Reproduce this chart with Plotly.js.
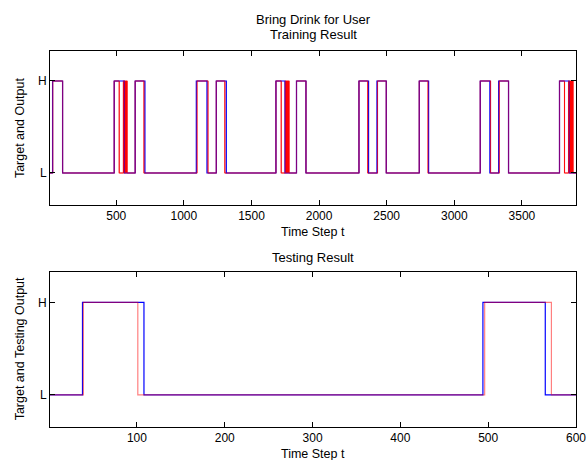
<!DOCTYPE html>
<html>
<head>
<meta charset="utf-8">
<script src="https://cdn.plot.ly/plotly-3.0.1.min.js"></script>
<style>html,body{margin:0;padding:0;background:#fff;}#chart{width:587px;height:460px;}</style>
</head>
<body>
<div id="chart"></div>
<script>
// Training: target (blue) step transitions
var trainTargetT = [1, 29, 103, 485, 560, 640, 712, 1092, 1171, 1240, 1314, 1681, 1748, 1833, 1903, 2295, 2366, 2428, 2497, 2741, 2810, 3192, 3263, 3328, 3401, 3778, 3850, 3900];
var trainTargetV = [0, 1, 0, 1, 0, 1, 0, 1, 0, 1, 0, 1, 0, 1, 0, 1, 0, 1, 0, 1, 0, 1, 0, 1, 0, 1, 0, 0];
// Training: network output (red) step transitions
var trainOutputT = [1, 30, 103, 485, 522, 553, 556, 559, 562, 565, 568, 571, 574, 577, 580, 640, 705, 1097, 1178, 1240, 1303, 1681, 1720, 1750, 1753, 1756, 1759, 1762, 1765, 1768, 1771, 1774, 1778, 1833, 1903, 2295, 2360, 2432, 2497, 2741, 2806, 3192, 3268, 3332, 3401, 3778, 3815, 3845, 3848, 3851, 3854, 3857, 3860, 3863, 3866, 3869, 3872, 3875, 3878, 3900];
var trainOutputV = [0, 1, 0, 1, 0, 1, 0, 1, 0, 1, 0, 1, 0, 1, 0, 1, 0, 1, 0, 1, 0, 1, 0, 1, 0, 1, 0, 1, 0, 1, 0, 1, 0, 1, 0, 1, 0, 1, 0, 1, 0, 1, 0, 1, 0, 1, 0, 1, 0, 1, 0, 1, 0, 1, 0, 1, 0, 1, 0, 0];
// Testing
var testTargetT = [1, 38, 108, 494, 565, 600];
var testTargetV = [0, 1, 0, 1, 0, 0];
var testOutputT = [1, 39, 101, 496, 572, 600];
var testOutputV = [0, 1, 0, 1, 0, 0];

var trainTicks = [500, 1000, 1500, 2000, 2500, 3000, 3500];
var testTicks = [100, 200, 300, 400, 500, 600];
var levelVals = [0, 1];
var levelText = ['L', 'H'];

var blue = '#0000ff';
var red = 'rgba(255,0,0,0.5)';
var LW = 1.2;

var traces = [
  {x: trainOutputT, y: trainOutputV, xaxis: 'x', yaxis: 'y', mode: 'lines', line: {color: '#ff0000', width: 0.9, shape: 'hv'}, hoverinfo: 'skip'},
  {x: trainTargetT, y: trainTargetV, xaxis: 'x', yaxis: 'y', mode: 'lines', line: {color: blue, width: LW, shape: 'hv'}, hoverinfo: 'skip'},
  {x: trainOutputT, y: trainOutputV, xaxis: 'x', yaxis: 'y', mode: 'lines', line: {color: red, width: LW, shape: 'hv'}, hoverinfo: 'skip'},
  {x: testTargetT, y: testTargetV, xaxis: 'x2', yaxis: 'y2', mode: 'lines', line: {color: blue, width: LW, shape: 'hv'}, hoverinfo: 'skip'},
  {x: testOutputT, y: testOutputV, xaxis: 'x2', yaxis: 'y2', mode: 'lines', line: {color: red, width: LW, shape: 'hv'}, hoverinfo: 'skip'}
];

var fnt = {family: 'Liberation Sans, Arial, sans-serif', size: 12, color: '#000'};
var axCommon = {
  showgrid: false, zeroline: false, showline: true, linecolor: '#000', linewidth: 1,
  mirror: 'ticks', ticks: 'inside', ticklen: 5, tickcolor: '#000', tickwidth: 1,
  tickfont: fnt, automargin: false
};
function ax(extra) { var o = {}; for (var k in axCommon) o[k] = axCommon[k]; for (var k2 in extra) o[k2] = extra[k2]; return o; }

var layout = {
  width: 587, height: 460,
  margin: {l: 50, r: 11, t: 51, b: 33, pad: 0},
  paper_bgcolor: '#fff', plot_bgcolor: '#fff',
  showlegend: false,
  font: fnt,
  xaxis: ax({domain: [0, 1], range: [10, 3900], tickvals: trainTicks, anchor: 'y'}),
  yaxis: ax({domain: [0.5904, 1], range: [-0.348, 1.326], tickvals: levelVals, ticktext: levelText, anchor: 'x'}),
  xaxis2: ax({domain: [0, 1], range: [1, 600], tickvals: testTicks, anchor: 'y2'}),
  yaxis2: ax({domain: [0, 0.413], range: [-0.346, 1.331], tickvals: levelVals, ticktext: levelText, anchor: 'x2'}),
  annotations: [
    {text: 'Bring Drink for User', xref: 'paper', yref: 'paper', x: 0.5, y: 1.0851, showarrow: false, yanchor: 'middle', font: {family: fnt.family, size: 13, color: '#000'}},
    {text: 'Training Result', xref: 'paper', yref: 'paper', x: 0.5, y: 1.0426, showarrow: false, yanchor: 'middle', font: {family: fnt.family, size: 13, color: '#000'}},
    {text: 'Time Step t', xref: 'paper', yref: 'paper', x: 0.5, y: 0.5186, showarrow: false, yanchor: 'middle', font: {family: fnt.family, size: 12.5, color: '#000'}},
    {text: 'Testing Result', xref: 'paper', yref: 'paper', x: 0.5, y: 0.4521, showarrow: false, yanchor: 'middle', font: {family: fnt.family, size: 13, color: '#000'}},
    {text: 'Time Step t', xref: 'paper', yref: 'paper', x: 0.5, y: -0.0718, showarrow: false, yanchor: 'middle', font: {family: fnt.family, size: 12.5, color: '#000'}},
    {text: 'Target and Output', xref: 'paper', yref: 'paper', x: -0.057, y: 0.795, showarrow: false, xanchor: 'center', yanchor: 'middle', textangle: -90, font: {family: fnt.family, size: 12.5, color: '#000'}},
    {text: 'Target and Testing Output', xref: 'paper', yref: 'paper', x: -0.057, y: 0.2065, showarrow: false, xanchor: 'center', yanchor: 'middle', textangle: -90, font: {family: fnt.family, size: 12.5, color: '#000'}}
  ]
};

Plotly.newPlot('chart', traces, layout, {staticPlot: true, displayModeBar: false});
</script>
</body>
</html>
